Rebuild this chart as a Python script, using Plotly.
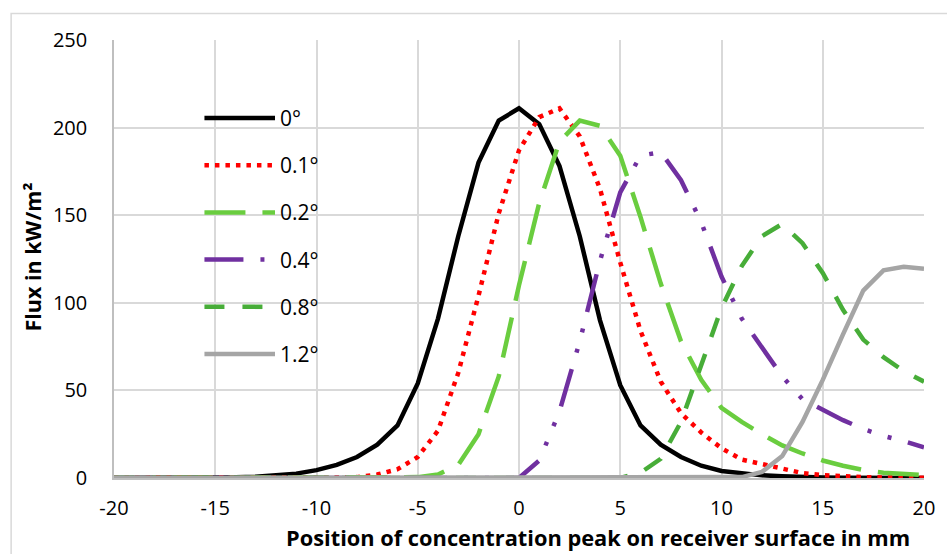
import plotly.graph_objects as go

# ---------------- data ----------------
positions_mm = list(range(-20, 21))

flux_0deg = [0, 0, 0, 0, 0.1, 0.2, 0.4, 0.7, 1.3, 2.5, 4.5, 7.5, 12, 19, 30, 54, 91, 138, 180, 204,
             211, 202, 178, 138, 90, 53, 30, 19, 12, 7, 4, 2.5, 1.5, 1, 0.5, 0.3, 0.2, 0.1, 0, 0, 0]
flux_01deg = [0, 0, 0, 0, 0, 0, 0, 0, 0, 0, 0, 0, 0.5, 2, 5, 12, 27, 60, 104, 151,
              187, 206, 211, 195, 165, 123, 84, 55, 37, 26, 17, 10.5, 7.8, 5, 2.8, 1.6, 0.9, 0.5, 0.3, 0.2, 0.1]
flux_02deg = [0, 0, 0, 0, 0, 0, 0, 0, 0, 0, 0, 0, 0, 0, 0, 0.5, 2, 7.5, 25, 58,
              110, 157, 192, 204, 201, 184, 149, 111, 78, 56, 40, 32, 25, 18.6, 14, 10, 7, 4.6, 3, 2.3, 1.7]
flux_04deg = [0, 0, 0, 0, 0, 0, 0, 0, 0, 0, 0, 0, 0, 0, 0, 0, 0, 0, 0, 0,
              0, 10, 38, 78, 124, 163, 184, 186, 170, 146, 115, 91, 74, 58, 45, 39, 33, 28, 24, 21, 17.5]
flux_08deg = [0, 0, 0, 0, 0, 0, 0, 0, 0, 0, 0, 0, 0, 0, 0, 0, 0, 0, 0, 0,
              0, 0, 0, 0, 0, 0, 3, 11, 32, 64, 97, 121, 138, 145, 134, 117, 96, 79, 69, 61, 55]
flux_12deg = [0, 0, 0, 0, 0, 0, 0, 0, 0, 0, 0, 0, 0, 0, 0, 0, 0, 0, 0, 0,
              0, 0, 0, 0, 0, 0, 0, 0, 0, 0, 0, 0.5, 3.5, 12.5, 32, 56, 82, 107, 118.5, 120.5, 119.5]

series_names = ["0°", "0.1°", "0.2°", "0.4°", "0.8°", "1.2°"]
series_values = [flux_0deg, flux_01deg, flux_02deg, flux_04deg, flux_08deg, flux_12deg]

x_tick_values = [-20, -15, -10, -5, 0, 5, 10, 15, 20]
y_tick_values = [0, 50, 100, 150, 200, 250]

x_title = "Position of concentration peak on receiver surface in mm"
y_title = "Flux in kW/m²"

# ---------------- styles ----------------
colors = ["#000000", "#FF0000", "#6ACD3F", "#7030A0", "#47AD38", "#A5A5A5"]
dashes = ["solid", "4.5px,6px", "41px,17px", "39px,17px,4px,17px,4px,17px", "20px,18px", "solid"]
width = 4.5
FONT = "'Open Sans', Lato, sans-serif"

fig = go.Figure()
for name, vals, col, dsh in zip(series_names, series_values, colors, dashes):
    fig.add_trace(go.Scatter(
        x=positions_mm, y=vals, mode="lines", name=name,
        line=dict(color=col, width=width, dash=dsh),
        showlegend=False, hoverinfo="x+y+name"))

# plot-area geometry (pixels) for custom legend / outer frame
L, R, T, B = 114, 929, 40, 478
W, H = R - L, B - T


def px_x(p):
    return (p - L) / W


def px_y(p):
    return (B - p) / H


shapes = []
annotations = []
leg_y0, leg_dy = 118, 47.2
for i, (name, col, dsh) in enumerate(zip(series_names, colors, dashes)):
    yy = px_y(leg_y0 + i * leg_dy)
    shapes.append(dict(type="line", xref="paper", yref="paper",
                       x0=px_x(205), x1=px_x(276), y0=yy, y1=yy,
                       line=dict(color=col, width=width, dash=dsh)))
    annotations.append(dict(xref="paper", yref="paper", x=px_x(279), y=yy,
                            text=name, showarrow=False, xanchor="left", yanchor="middle",
                            font=dict(family=FONT, size=21, color="#000000")))

# outer chart frame
shapes.append(dict(type="rect", xref="paper", yref="paper", layer="below",
                   x0=px_x(10.5), x1=px_x(960), y0=px_y(13.5), y1=px_y(570),
                   line=dict(color="#D9D9D9", width=1.5), fillcolor="rgba(0,0,0,0)"))

# axis titles
annotations.append(dict(xref="paper", yref="paper", x=px_x(601), y=px_y(537),
                        text="<b>" + x_title + "</b>", showarrow=False,
                        xanchor="center", yanchor="middle",
                        font=dict(family=FONT, size=21.8, color="#000000")))
annotations.append(dict(xref="paper", yref="paper", x=px_x(31), y=px_y(257),
                        text="<b>" + y_title + "</b>", showarrow=False, textangle=-90,
                        xanchor="center", yanchor="middle",
                        font=dict(family=FONT, size=21.5, color="#000000")))

fig.update_layout(
    width=947, height=554,
    margin=dict(l=L, r=947 - R, t=T, b=554 - B),
    paper_bgcolor="white", plot_bgcolor="white",
    font=dict(family=FONT, size=20, color="#000000"),
    shapes=shapes, annotations=annotations,
    showlegend=False,
)
fig.update_xaxes(range=[-20, 20], tickvals=x_tick_values, ticktext=[str(v) for v in x_tick_values],
                 showgrid=True, gridcolor="#D9D9D9", gridwidth=1.5, zeroline=False,
                 showline=True, linecolor="#BFBFBF", linewidth=1.5,
                 ticks="", ticklabelstandoff=11, tickfont=dict(family=FONT, size=20, color="#000000"))
fig.update_yaxes(range=[0, 250], tickvals=y_tick_values, ticktext=[str(v) for v in y_tick_values],
                 showgrid=True, gridcolor="#D9D9D9", gridwidth=1.5, zeroline=False,
                 showline=True, linecolor="#BFBFBF", linewidth=1.5,
                 ticks="", ticklabelstandoff=21, tickfont=dict(family=FONT, size=20, color="#000000"))

fig.write_html("out.html", config={"displayModeBar": False},
               post_script="document.body.style.margin='0';document.body.style.overflow='hidden';")
